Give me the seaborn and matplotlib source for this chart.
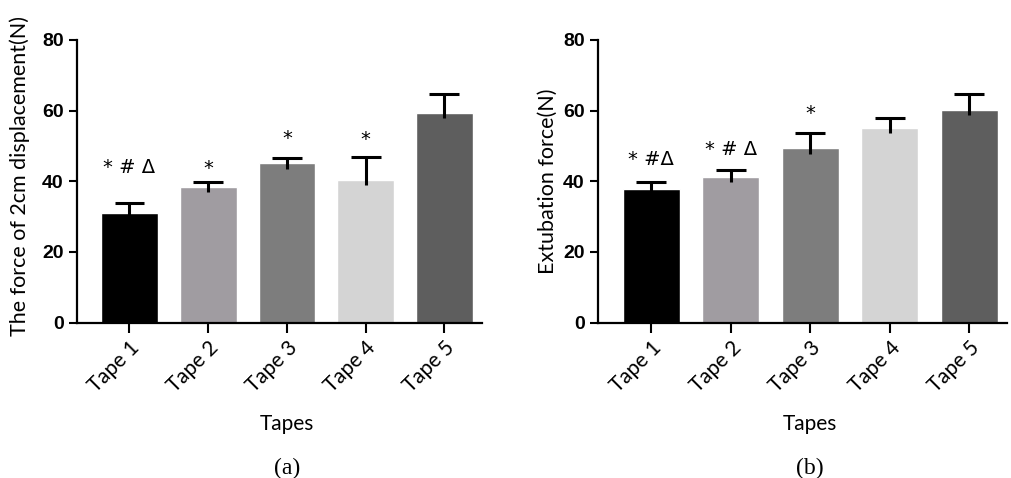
import matplotlib
matplotlib.use("Agg")
import matplotlib.pyplot as plt
import matplotlib.transforms as mtransforms
import pandas as pd
import seaborn as sns

# data
tapes = ["Tape 1", "Tape 2", "Tape 3", "Tape 4", "Tape 5"]
bar_colors = ["#000000", "#a09ca1", "#7d7d7d", "#d4d4d4", "#5e5e5e"]

disp_force = [31.1, 38.5, 45.1, 40.4, 59.4]
disp_err = [2.7, 1.3, 1.4, 6.5, 5.2]
disp_marks = ["* # Δ", "*", "*", "*", ""]
disp_mark_y = [44.0, 43.5, 52.0, 51.8, 0]

extub_marks = ["* #Δ", "* # Δ", "*", "", ""]
extub_force = [37.8, 41.2, 49.3, 55.1, 60.2]
extub_err = [2.1, 2.1, 4.5, 2.7, 4.5]
extub_mark_y = [46.3, 49.1, 59.2, 0, 0]

sns.set_style("ticks")
plt.rcParams["font.family"] = ["Lato", "DejaVu Sans"]
plt.rcParams["text.color"] = "black"
plt.rcParams["axes.labelcolor"] = "black"
plt.rcParams["xtick.color"] = "black"
plt.rcParams["ytick.color"] = "black"


def panel(ax, values, errs, marks, mark_y, ylabel, tag):
    df = pd.DataFrame({"tape": tapes, "force": values})
    sns.barplot(data=df, x="tape", y="force", hue="tape", palette=bar_colors,
                width=0.72, errorbar=None, legend=False, saturation=1, ax=ax)
    xs = list(range(len(tapes)))
    tops = [v + e for v, e in zip(values, errs)]
    # upper-only error bars, stem starts a bit inside the bar
    ax.vlines(xs, [v - 1.5 for v in values], tops, color="black",
              linewidth=2.2, zorder=1)
    ax.hlines(tops, [x - 0.19 for x in xs], [x + 0.19 for x in xs],
              color="black", linewidth=2.2, zorder=1)
    for i, (m, y) in enumerate(zip(marks, mark_y)):
        if m:
            ax.text(i, y, m, ha="center", va="center", fontsize=14,
                    family="DejaVu Sans")
    ax.set_ylim(0, 80)
    ax.set_yticks([0, 20, 40, 60, 80])
    ax.set_xlim(-0.67, 4.48)
    ax.set_ylabel(ylabel, fontsize=15.5)
    ax.set_xlabel("")
    for lab in ax.get_yticklabels():
        lab.set_fontweight("bold")
        lab.set_fontsize(14)
        lab.set_family("Liberation Sans")
    ax.set_xticks(xs)
    ax.set_xticklabels(tapes, rotation=45, ha="right", rotation_mode="anchor",
                       fontsize=15)
    ax.tick_params(axis="both", width=1.5, length=6)
    ax.tick_params(axis="x", length=7)
    for s in ["left", "bottom"]:
        ax.spines[s].set_linewidth(1.6)
        ax.spines[s].set_color("black")
    sns.despine(ax=ax)
    trans = mtransforms.blended_transform_factory(ax.transData, ax.transAxes)
    ax.text(2, -0.36, "Tapes", transform=trans, ha="center", va="center",
            fontsize=15)
    ax.text(2, -0.515, tag, transform=trans, ha="center", va="center",
            fontsize=17, family="Liberation Serif")


fig = plt.figure(figsize=(10.11, 4.78), dpi=100)
ax1 = fig.add_axes([0.0759, 0.325, 0.401, 0.5914])
ax2 = fig.add_axes([0.5915, 0.325, 0.405, 0.5914])

panel(ax1, disp_force, disp_err, disp_marks, disp_mark_y,
      "The force of 2cm displacement(N)", "(a)")
panel(ax2, extub_force, extub_err, extub_marks, extub_mark_y,
      "Extubation force(N)", "(b)")
ax1.yaxis.set_label_coords(-0.115, 0.52)

fig.savefig("out.png", dpi=100)
